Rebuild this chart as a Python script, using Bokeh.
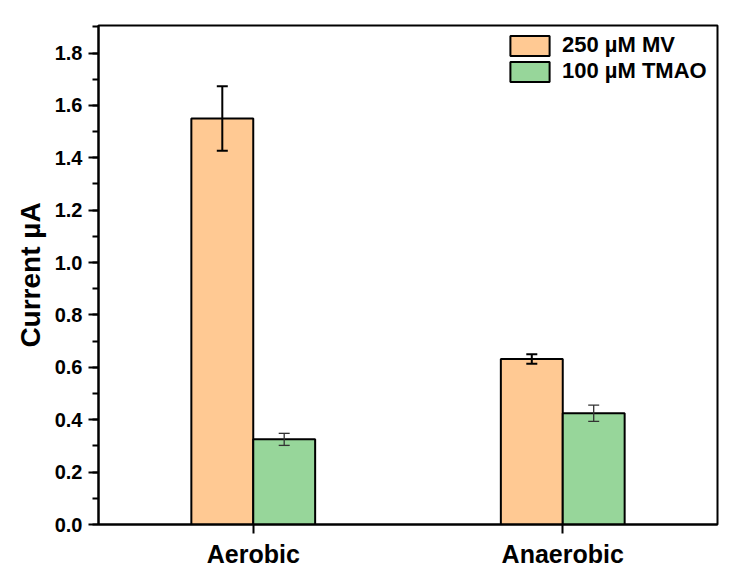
from bokeh.plotting import figure
from bokeh.models import (ColumnDataSource, FactorRange, Whisker, TeeHead, SingleIntervalTicker,
                          Legend, LegendItem, CustomJSTickFormatter)
from bokeh.transform import dodge
from bokeh.embed import file_html
from bokeh.resources import INLINE

# data
conditions = ["Aerobic", "Anaerobic"]
mv_current = [1.55, 0.632]
mv_err = [0.123, 0.018]
tmao_current = [0.325, 0.425]
tmao_err = [0.023, 0.031]

series_names = ["250 \u00b5M MV", "100 \u00b5M TMAO"]
colors = ["#FFC993", "#97D69A"]

FONT = "Liberation Sans"

src = ColumnDataSource(data=dict(
    cond=conditions,
    mv=mv_current,
    mv_up=[v + e for v, e in zip(mv_current, mv_err)],
    mv_lo=[v - e for v, e in zip(mv_current, mv_err)],
    tmao=tmao_current,
    tmao_up=[v + e for v, e in zip(tmao_current, tmao_err)],
    tmao_lo=[v - e for v, e in zip(tmao_current, tmao_err)],
))

p = figure(x_range=FactorRange(*conditions), y_range=(0, 1.905),
           width=732, height=580, output_backend="svg", toolbar_location=None, tools="",
           min_border_left=98, min_border_right=15, min_border_top=25, min_border_bottom=56)

r1 = p.vbar(x=dodge("cond", -0.1, range=p.x_range), top="mv", width=0.2, source=src,
            fill_color=colors[0], line_color="black", line_width=2)
r2 = p.vbar(x=dodge("cond", 0.1, range=p.x_range), top="tmao", width=0.2, source=src,
            fill_color=colors[1], line_color="black", line_width=2)

# error bars
for off, up, lo, lw, col in [(-0.1, "mv_up", "mv_lo", 2, "black"), (0.1, "tmao_up", "tmao_lo", 1.3, "#333333")]:
    w = Whisker(base=dodge("cond", off, range=p.x_range), upper=up, lower=lo, source=src,
                line_color=col, line_width=lw, level="overlay",
                upper_head=TeeHead(size=11, line_color=col, line_width=lw),
                lower_head=TeeHead(size=11, line_color=col, line_width=lw))
    p.add_layout(w)

# styling
p.xgrid.grid_line_color = None
p.ygrid.grid_line_color = None
p.outline_line_color = "black"
p.outline_line_width = 2
p.background_fill_color = "white"
p.border_fill_color = "white"

p.yaxis.ticker = SingleIntervalTicker(interval=0.2, num_minor_ticks=2)
p.yaxis.formatter = CustomJSTickFormatter(code="return tick.toFixed(1);")
p.yaxis.axis_label = "Current \u00b5A"
p.yaxis.axis_label_text_font = FONT
p.yaxis.axis_label_text_font_style = "bold"
p.yaxis.axis_label_text_font_size = "28px"
p.yaxis.axis_label_text_color = "black"
p.yaxis.axis_label_standoff = 6

for ax in (p.xaxis, p.yaxis):
    ax.axis_line_color = "black"
    ax.axis_line_width = 2
    ax.major_tick_line_color = "black"
    ax.major_tick_line_width = 2
    ax.minor_tick_line_color = "black"
    ax.minor_tick_line_width = 2
    ax.major_tick_in = 0
    ax.minor_tick_in = 0
    ax.major_label_text_font = FONT
    ax.major_label_text_font_style = "bold"
    ax.major_label_text_color = "black"

p.yaxis.major_tick_out = 10
p.yaxis.minor_tick_out = 6
p.yaxis.major_label_text_font_size = "20px"
p.yaxis.major_label_standoff = 6

p.xaxis.major_tick_out = 9
p.xaxis.major_label_text_font_size = "25px"
p.xaxis.major_label_standoff = 6

legend = Legend(items=[LegendItem(label=series_names[0], renderers=[r1]),
                       LegendItem(label=series_names[1], renderers=[r2])],
                location=(407, 440))
legend.margin = 0
legend.padding = 8
legend.spacing = 0
legend.glyph_width = 49
legend.glyph_height = 25
legend.label_standoff = 8
legend.label_text_font = FONT
legend.label_text_font_style = "bold"
legend.label_text_font_size = "22px"
legend.label_text_color = "black"
legend.border_line_color = None
legend.background_fill_alpha = 0
p.add_layout(legend)

open("out.html", "w").write(file_html(p, INLINE))
